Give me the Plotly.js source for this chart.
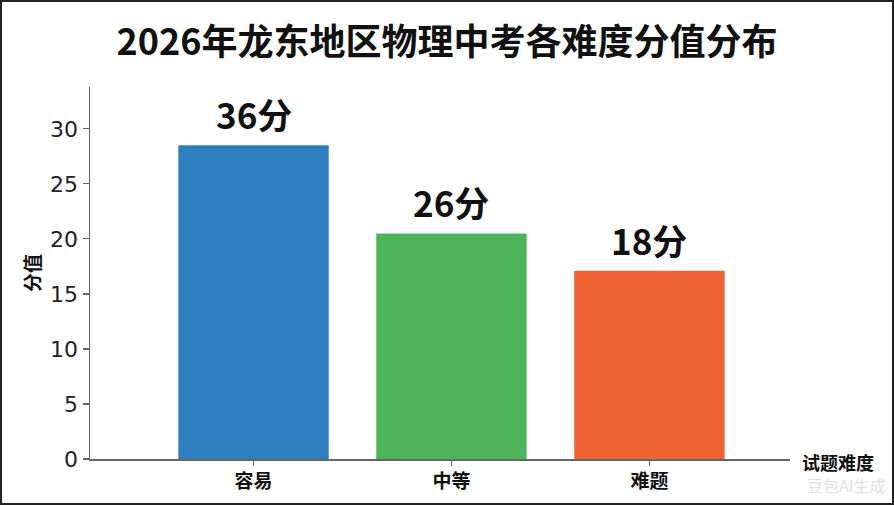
<!DOCTYPE html>
<html>
<head>
<meta charset="utf-8">
<script src="https://cdn.plot.ly/plotly-3.0.1.min.js"></script>
<style>
html,body{margin:0;padding:0;background:#fff;}
#wrap{position:relative;width:894px;height:505px;}
#chart{position:absolute;left:0;top:0;width:894px;height:505px;}
#frame{position:absolute;left:0;top:0;width:894px;height:505px;box-sizing:border-box;border:2px solid #222;pointer-events:none;}
</style>
</head>
<body>
<div id="wrap"><div id="chart"></div><div id="frame"></div></div>
<script>
const categories = ['容易', '中等', '难题'];
const barHeights = [28.5, 20.5, 17.1];
const scoreLabels = ['36分', '26分', '18分'];
const barColors = ['#2f7fbf', '#4db45a', '#ef6233'];
const yTicks = [0, 5, 10, 15, 20, 25, 30];

const FONT = '"Noto Sans CJK SC", "Noto Sans", sans-serif';

const trace = {
  type: 'bar',
  x: categories,
  y: barHeights,
  marker: {color: barColors, line: {width: 0}},
  width: 0.76,
  hoverinfo: 'none'
};

const annotations = categories.map((c, i) => ({
  x: c, y: barHeights[i], xref: 'x', yref: 'y',
  text: '<b>' + scoreLabels[i] + '</b>',
  showarrow: false, yanchor: 'bottom', yshift: 4,
  font: {family: FONT, size: 35, color: '#111'}
}));
annotations.push({
  xref: 'paper', yref: 'paper', x: 1.014, y: 0.0, xanchor: 'left', yanchor: 'middle',
  yshift: -3,
  text: '<b>试题难度</b>', showarrow: false,
  font: {family: FONT, size: 18, color: '#111'}
});
annotations.push({
  xref: 'paper', yref: 'paper', x: 1.022, y: -0.07, xanchor: 'left', yanchor: 'middle',
  text: '豆包AI生成', showarrow: false,
  font: {family: FONT, size: 16, color: '#e2e2e2'}
});

const layout = {
  width: 894, height: 505,
  margin: {l: 90, r: 104, t: 87, b: 46, pad: 0},
  paper_bgcolor: '#ffffff', plot_bgcolor: '#ffffff',
  showlegend: false,
  title: {
    text: '<b>2026年龙东地区物理中考各难度分值分布</b>',
    font: {family: FONT, size: 36, color: '#111'},
    x: 0.5, xref: 'container', xanchor: 'center',
    y: 0.917, yref: 'container', yanchor: 'middle'
  },
  xaxis: {
    type: 'category',
    range: [-0.826, 2.71],
    showgrid: false, zeroline: false,
    showline: true, linecolor: '#666', linewidth: 1.5,
    ticks: 'outside', ticklen: 5, tickcolor: '#666', tickwidth: 1.2,
    tickfont: {family: FONT, size: 19, color: '#111', weight: 'bold'},
    ticklabelstandoff: 0
  },
  yaxis: {
    range: [0, 33.8],
    tickvals: yTicks,
    showgrid: false, zeroline: false,
    showline: true, linecolor: '#666', linewidth: 1.5,
    ticks: 'outside', ticklen: 6, tickcolor: '#666', tickwidth: 1.2,
    tickfont: {family: 'DejaVu Sans, sans-serif', size: 22, color: '#222'},
    title: {text: '<b>分值</b>', font: {family: FONT, size: 19, color: '#111'}, standoff: 4}
  },
  annotations: annotations,
  bargap: 0.24
};

Plotly.newPlot('chart', [trace], layout, {displayModeBar: false, staticPlot: true});
</script>
</body>
</html>
